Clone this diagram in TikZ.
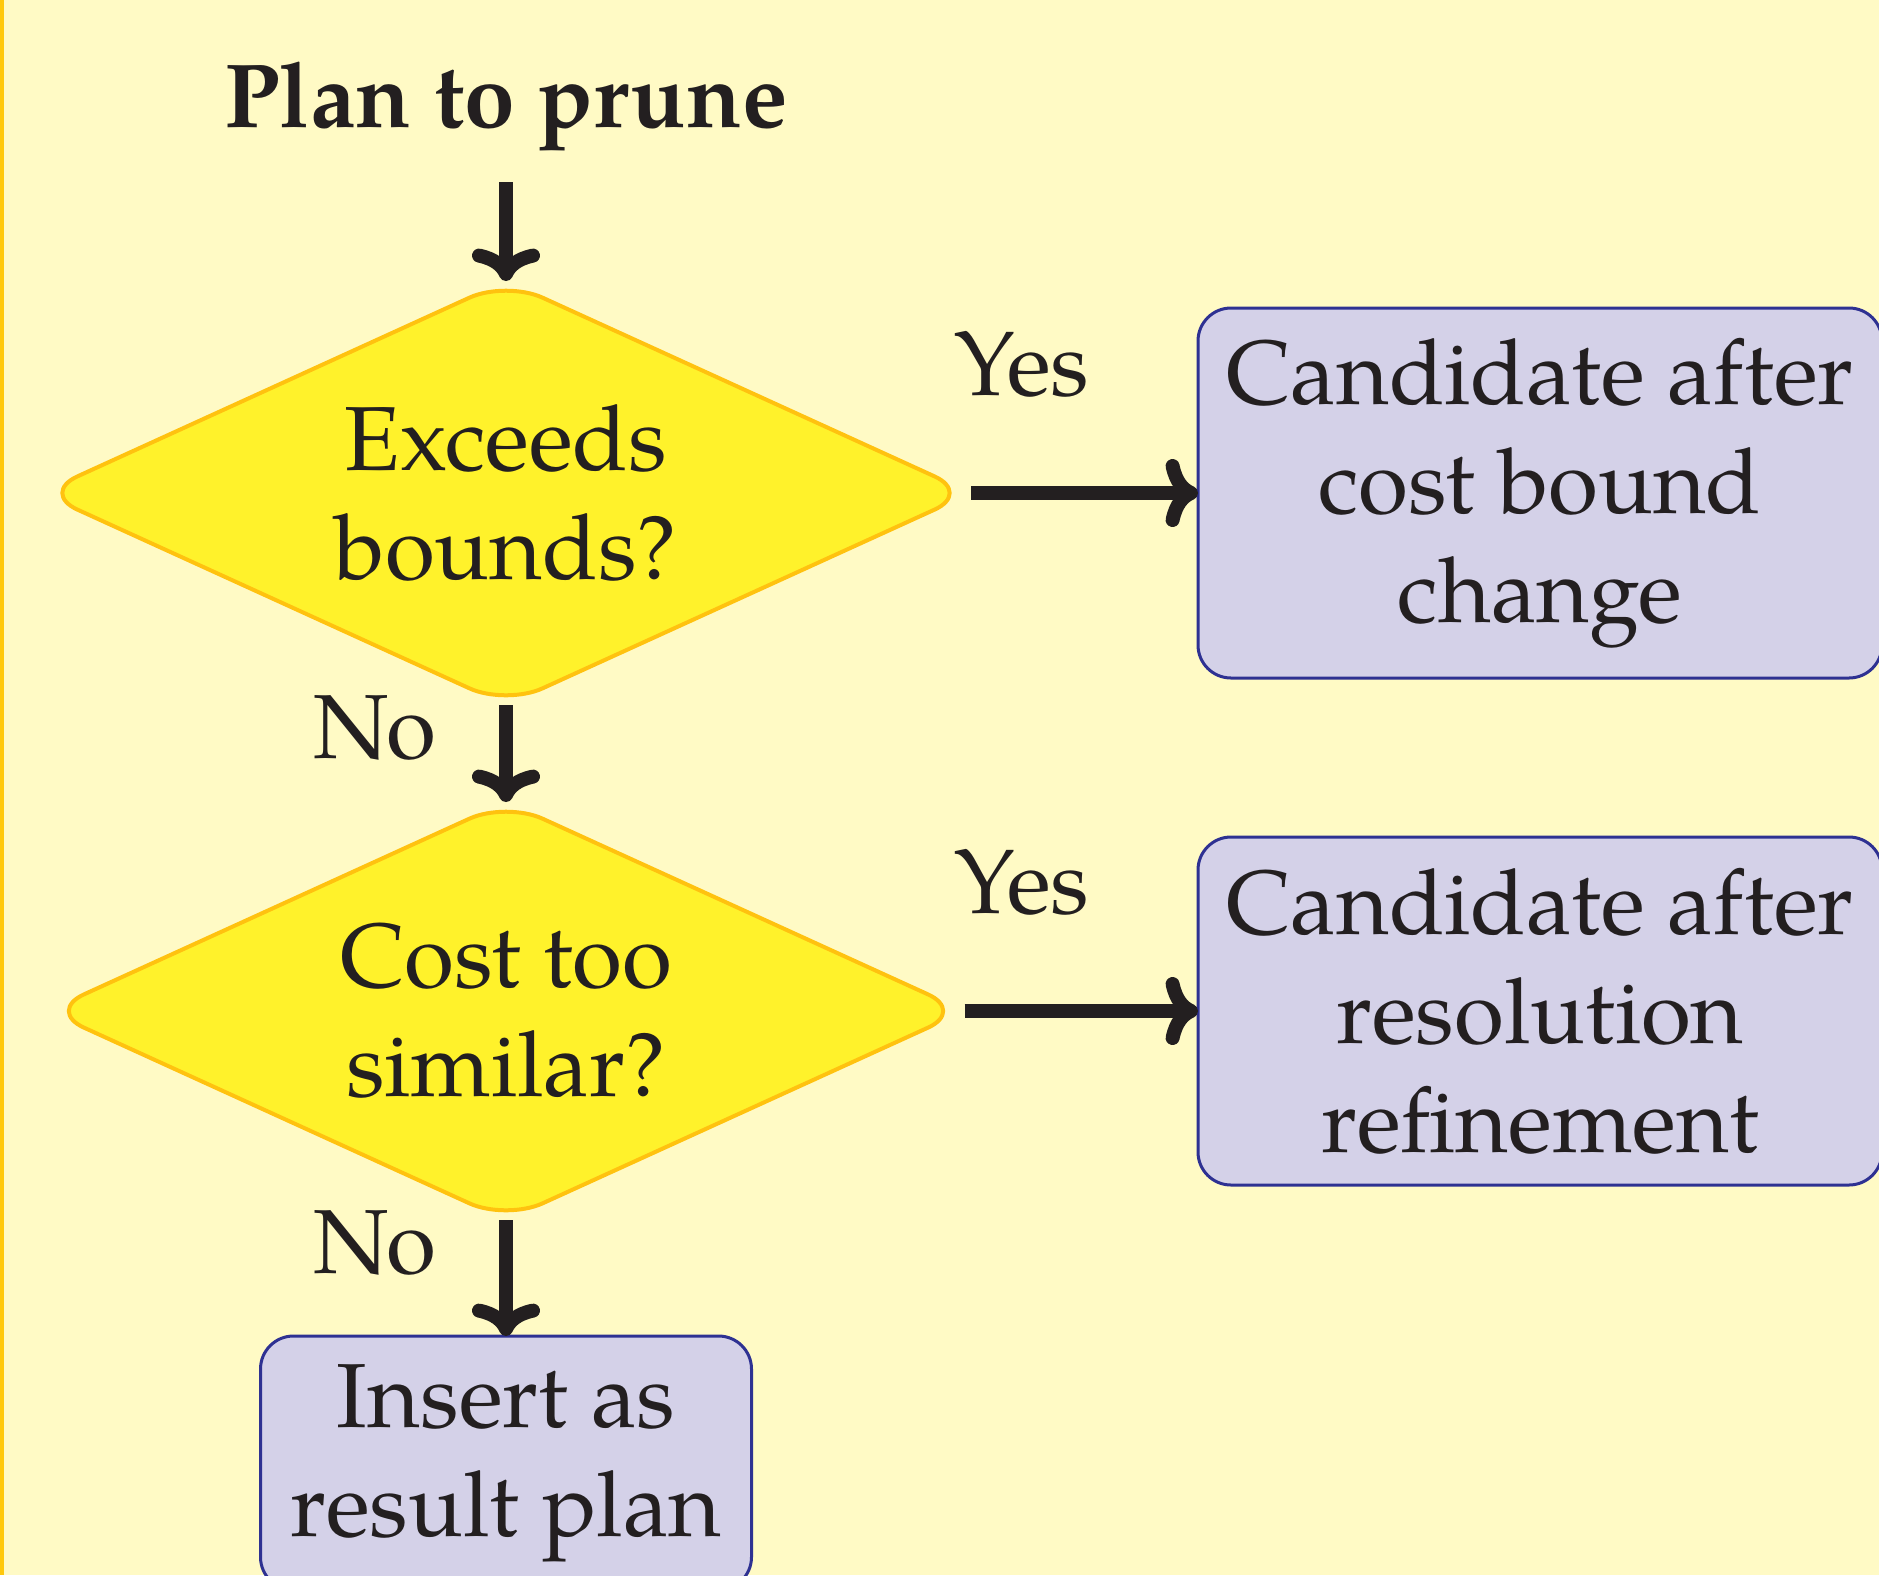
\documentclass[tikz,border=0pt]{standalone}
\usepackage{fontspec}
\setmainfont{texgyrepagella}[Extension=.otf,UprightFont=*-regular,BoldFont=*-bold,ItalicFont=*-italic,BoldItalicFont=*-bolditalic]
\usetikzlibrary{shapes.geometric,arrows.meta}
\definecolor{bgyellow}{HTML}{FFFAC5}
\definecolor{stripe}{HTML}{FFC80C}
\definecolor{dfill}{HTML}{FFF22B}
\definecolor{dborder}{HTML}{FFC20F}
\definecolor{bfill}{HTML}{D4D1E8}
\definecolor{bborder}{HTML}{2E3192}
\definecolor{ink}{HTML}{231F20}
\tikzset{
  txt/.style={text=ink, font=\fontsize{91pt}{109pt}\selectfont, align=center},
  titletxt/.style={text=ink, font=\fontsize{91pt}{109pt}\selectfont\bfseries, inner sep=0pt, anchor=base},
  decision/.style={txt, shape=diamond, aspect=2.2, inner sep=0pt, outer sep=0pt,
    fill=dfill, draw=dborder, line width=4pt, rounded corners=40pt},
  outcome/.style={txt, shape=rectangle, inner sep=0pt, outer sep=0pt,
    fill=bfill, draw=bborder, line width=3pt, rounded corners=33pt},
  lbl/.style={txt, inner sep=0pt, anchor=base},
  arr/.style={draw=ink, line width=14pt,
    -{Computer Modern Rightarrow}}
}
\begin{document}
\begin{tikzpicture}[x=1pt,y=-1pt]
\useasboundingbox (0,0) rectangle (1879,1575);
\fill[bgyellow] (0,0) rectangle (1879,1575);
\fill[stripe] (0,0) rectangle (4,1575);

\node[titletxt] (title) at (506,127) {Plan to prune};
\node[decision, minimum width=930pt, minimum height=424pt] (d1) at (506,493) {Exceeds\\bounds?};
\node[decision, minimum width=917pt, minimum height=418pt] (d2) at (506,1011) {Cost too\\similar?};
\node[outcome, minimum width=684pt, minimum height=370pt] (b1) at (1540,493) {Candidate after\\cost bound\\change};
\node[outcome, minimum width=684pt, minimum height=348pt] (b2) at (1540,1011) {Candidate after\\resolution\\refinement};
\node[outcome, minimum width=491pt, minimum height=254pt] (b3) at (506,1463) {Insert as\\result plan};

\node[lbl] (yes1) at (1022,395) {Yes};
\node[lbl] (yes2) at (1022,913) {Yes};
\node[lbl] (no1) at (375,758) {No};
\node[lbl] (no2) at (375,1273) {No};

\draw[arr] ([yshift=-55pt]title.base) -- (d1.north);
\draw[arr] (d1.south) -- (d2.north);
\draw[arr] (d2.south) -- (b3.north);
\draw[arr] (d1.east) -- (b1.west);
\draw[arr] (d2.east) -- (b2.west);
\end{tikzpicture}
\end{document}
